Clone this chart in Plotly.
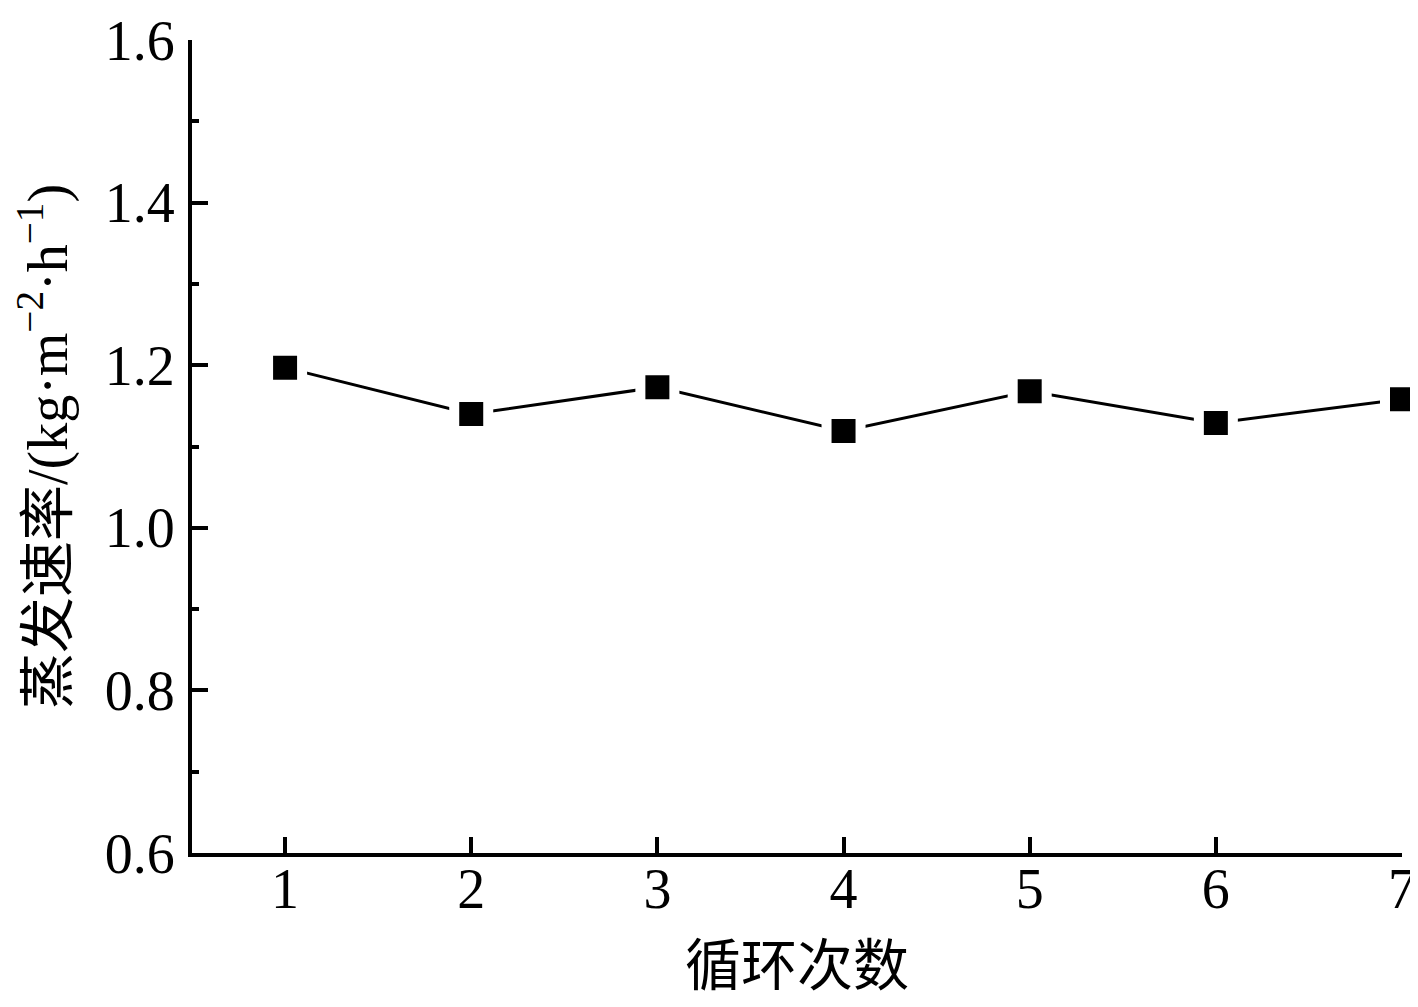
import plotly.graph_objects as go

cycles = [1, 2, 3, 4, 5, 6, 7]
rate = [1.197, 1.140, 1.173, 1.119, 1.168, 1.129, 1.158]

y_ticks = [0.6, 0.8, 1.0, 1.2, 1.4, 1.6]
y_ticklabels = ["0.6", "0.8", "1.0", "1.2", "1.4", "1.6"]

font_main = "Liberation Serif, Times New Roman, Noto Sans CJK SC, serif"

fig = go.Figure()

# white ring round each marker leaves the small gap in the line, as in the original
fig.add_trace(go.Scatter(
    x=cycles,
    y=rate,
    mode="lines+markers",
    line=dict(color="black", width=3),
    marker=dict(symbol="square", size=34, color="black",
                line=dict(color="white", width=10)),
    cliponaxis=False,
    showlegend=False,
))

# the page body adds an 8px offset, margins are shifted to make up for it
fig.update_layout(
    width=1418,
    height=1007,
    paper_bgcolor="white",
    plot_bgcolor="white",
    margin=dict(l=184, r=24, t=32, b=162),
    font=dict(family=font_main, color="black", size=56),
)

fig.update_xaxes(
    range=[0.5, 7.0],
    tickvals=cycles,
    ticktext=[str(c) for c in cycles],
    ticks="inside",
    ticklen=16,
    tickwidth=4,
    tickcolor="black",
    ticklabelstandoff=-16,
    showline=True,
    linecolor="black",
    linewidth=4,
    showgrid=False,
    zeroline=False,
    automargin=False,
    tickfont=dict(size=56),
    title=dict(text="循环次数", font=dict(size=56), standoff=28),
)

fig.update_yaxes(
    range=[0.6, 1.6],
    tickvals=y_ticks,
    ticktext=y_ticklabels,
    ticks="inside",
    ticklen=16,
    tickwidth=4,
    tickcolor="black",
    ticklabelstandoff=2,
    minor=dict(ticks="inside", ticklen=7, tickwidth=4, dtick=0.1,
               tickcolor="black", showgrid=False),
    showline=True,
    linecolor="black",
    linewidth=4,
    showgrid=False,
    zeroline=False,
    automargin=False,
    tickfont=dict(size=56),
    title=dict(text="蒸发速率/(kg·m<sup>−2</sup>·h<sup>−1</sup>)",
               font=dict(size=56), standoff=26),
)

fig.write_html("out.html")
